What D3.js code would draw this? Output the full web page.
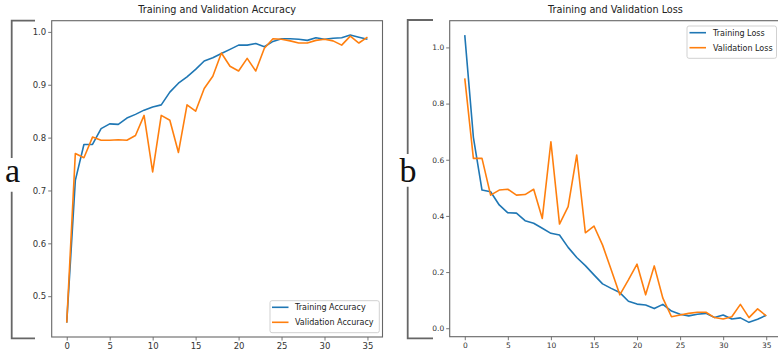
<!DOCTYPE html>
<html><head><meta charset="utf-8">
<script src="https://cdn.jsdelivr.net/npm/d3@7"></script>
<style>body{margin:0;background:#fff}svg{display:block}</style>
</head><body>
<svg id="c" width="778" height="358"></svg>
<script>
const epochs = d3.range(0, 36);
const trainAcc = [0.450,0.719,0.787,0.787,0.817,0.826,0.825,0.837,0.844,0.852,0.858,0.862,0.886,0.903,0.915,0.929,0.945,0.951,0.959,
  0.967,0.975,0.975,0.978,0.972,0.982,0.987,0.987,0.986,0.984,0.989,0.986,0.988,0.989,0.994,0.990,0.986];
const valAcc = [0.450,0.770,0.762,0.801,0.795,0.795,0.796,0.795,0.804,0.842,0.735,0.842,0.833,0.772,0.862,0.850,0.893,0.916,0.960,
  0.935,0.926,0.950,0.926,0.969,0.987,0.986,0.983,0.979,0.979,0.984,0.986,0.983,0.975,0.992,0.979,0.990];
const trainLoss = [1.044,0.680,0.492,0.486,0.439,0.411,0.410,0.383,0.374,0.356,0.338,0.332,0.288,0.252,0.223,0.190,0.158,0.142,0.127,
  0.096,0.086,0.083,0.070,0.085,0.061,0.050,0.044,0.050,0.053,0.038,0.047,0.033,0.037,0.021,0.032,0.046];
const valLoss = [0.890,0.605,0.605,0.474,0.492,0.495,0.474,0.476,0.495,0.391,0.664,0.371,0.433,0.617,0.340,0.364,0.296,0.208,0.119,
  0.172,0.228,0.119,0.222,0.107,0.041,0.047,0.053,0.057,0.057,0.038,0.033,0.041,0.085,0.038,0.069,0.044];
const xTicks = [0,5,10,15,20,25,30,35];
const accTicks = [0.5,0.6,0.7,0.8,0.9,1.0];
const lossTicks = [0.0,0.2,0.4,0.6,0.8,1.0];
const titles = ["Training and Validation Accuracy","Training and Validation Loss"];
const accLabels = ["Training Accuracy","Validation Accuracy"];
const lossLabels = ["Training Loss","Validation Loss"];
const panelLetters = ["a","b"];

const BLUE = "#1f77b4", ORANGE = "#ff7f0e";
const svg = d3.select("#c");

function margined(arrs){
  const all = arrs.flat();
  const lo = d3.min(all), hi = d3.max(all), r = hi - lo;
  return [lo - 0.05*r, hi + 0.05*r];
}

function panel(cfg){
  const g = svg.append("g");
  const x = d3.scaleLinear().domain([-1.75, 36.75]).range([cfg.left, cfg.right]);
  const y = d3.scaleLinear().domain(margined(cfg.series)).range([cfg.bottom, cfg.top]);
  // axes
  const xa = g.append("g").attr("transform", `translate(0,${cfg.bottom})`)
    .call(d3.axisBottom(x).tickValues(xTicks).tickSize(3.5).tickPadding(2).tickFormat(d3.format("d")));
  const ya = g.append("g").attr("transform", `translate(${cfg.left},0)`)
    .call(d3.axisLeft(y).tickValues(cfg.yTicks).tickSize(3.5).tickPadding(2).tickFormat(d3.format(".1f")));
  [xa, ya].forEach(a => {
    a.select(".domain").remove();
    a.selectAll("line").attr("stroke", "#666").attr("stroke-width", 0.9);
    a.selectAll("text").attr("fill", "#333").style("font-family", "DejaVu Sans").style("font-size", cfg.tickFont + "px");
  });
  // frame
  g.append("rect").attr("x", cfg.left).attr("y", cfg.top)
    .attr("width", cfg.right - cfg.left).attr("height", cfg.bottom - cfg.top)
    .attr("fill", "none").attr("stroke", "#666").attr("stroke-width", 1.1);
  // lines
  const line = d3.line().x((d, i) => x(epochs[i])).y(d => y(d));
  [BLUE, ORANGE].forEach((c, k) => {
    g.append("path").datum(cfg.series[k]).attr("d", line)
      .attr("fill", "none").attr("stroke", c).attr("stroke-width", 1.6).attr("stroke-linejoin", "round");
  });
  // title
  g.append("text").attr("x", (cfg.left + cfg.titleRight) / 2).attr("y", 13)
    .attr("text-anchor", "middle").attr("fill", "#222")
    .style("font-family", "DejaVu Sans").style("font-size", "9.7px").text(cfg.title);
  // legend
  const L = cfg.legend;
  const lg = g.append("g");
  lg.append("rect").attr("x", L.x0).attr("y", L.y0).attr("width", L.x1 - L.x0).attr("height", L.y1 - L.y0)
    .attr("rx", 2).attr("fill", "#fff").attr("fill-opacity", 0.8).attr("stroke", "#ccc").attr("stroke-width", 0.9);
  cfg.labels.forEach((t, k) => {
    const yy = L.row0 + k * 15;
    lg.append("line").attr("x1", L.lx0).attr("x2", L.lx1).attr("y1", yy).attr("y2", yy)
      .attr("stroke", [BLUE, ORANGE][k]).attr("stroke-width", 1.6);
    lg.append("text").attr("x", L.tx).attr("y", yy + 3).attr("fill", "#222")
      .style("font-family", "DejaVu Sans").style("font-size", "8px").text(t);
  });
  // bracket + letter
  const B = cfg.bracket;
  const bp = d3.path();
  bp.moveTo(B.x1, B.top); bp.lineTo(B.x, B.top); bp.lineTo(B.x, B.gap0);
  bp.moveTo(B.x, B.gap1); bp.lineTo(B.x, B.bot); bp.lineTo(B.x1, B.bot);
  svg.append("path").attr("d", bp.toString()).attr("fill", "none").attr("stroke", "#666").attr("stroke-width", 1.8);
  svg.append("text").attr("x", B.lx).attr("y", B.ly).attr("fill", "#111")
    .style("font-family", "Liberation Serif").style("font-size", "34px").text(cfg.letter);
}

panel({
  left: 51.7, right: 382.5, top: 20.7, bottom: 337, titleRight: 382.5,
  series: [trainAcc, valAcc], yTicks: accTicks, tickFont: 8.5, title: titles[0], labels: accLabels,
  legend: {x0: 270, x1: 379.3, y0: 300.7, y1: 332.7, row0: 307.3, lx0: 272, lx1: 288.5, tx: 295},
  bracket: {x: 11.7, x1: 35, top: 20.7, bot: 338.3, gap0: 158, gap1: 191.7, lx: 5, ly: 182},
  letter: panelLetters[0]
});
panel({
  left: 449.7, right: 781.3, top: 20.7, bottom: 336.7, titleRight: 781.3,
  series: [trainLoss, valLoss], yTicks: lossTicks, tickFont: 7.5, title: titles[1], labels: lossLabels,
  legend: {x0: 687, x1: 776.5, y0: 26, y1: 58.3, row0: 32.7, lx0: 689.5, lx1: 706, tx: 713},
  bracket: {x: 407.7, x1: 433, top: 20, bot: 338.3, gap0: 154, gap1: 186.7, lx: 399.5, ly: 182},
  letter: panelLetters[1]
});
</script>
</body></html>
